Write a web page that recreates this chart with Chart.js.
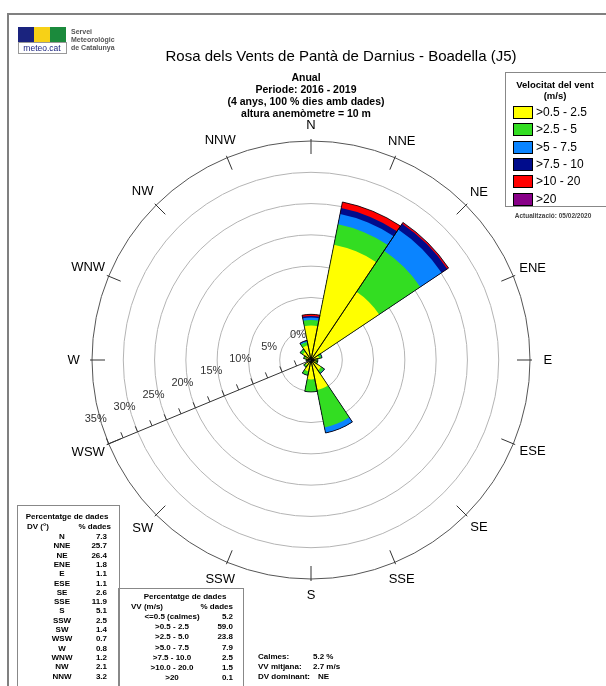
<!DOCTYPE html>
<html>
<head>
<meta charset="utf-8">
<script src="https://cdn.jsdelivr.net/npm/chart.js@4.4.1/dist/chart.umd.min.js"></script>
<style>
  body { margin: 0; background: #fff; font-family: 'Liberation Sans', Arial, sans-serif; }
  #page { position: relative; width: 606px; height: 686px; overflow: hidden; }
  #rose { position: absolute; left: 0; top: 0; }
  .t { position: absolute; white-space: nowrap; line-height: 1; color: #000; }
  .box { position: absolute; border: 1px solid #888; background: transparent; }
</style>
</head>
<body>
<div id="page">
  <canvas id="rose" width="606" height="686"></canvas>
</div>
<script>
// direccions (sentit horari des del N)
const directions = ['N', 'NNE', 'NE', 'ENE', 'E', 'ESE', 'SE', 'SSE', 'S', 'SSW', 'SW', 'WSW', 'W', 'WNW', 'NW', 'NNW'];
const dirPercent = [7.3, 25.7, 26.4, 1.8, 1.1, 1.1, 2.6, 11.9, 5.1, 2.5, 1.4, 0.7, 0.8, 1.2, 2.1, 3.2];

// classes de velocitat
const speedClasses = ['>0.5 - 2.5', '>2.5 - 5', '>5 - 7.5', '>7.5 - 10', '>10 - 20', '>20'];
const speedColors = ['#ffff00', '#33dd22', '#0a84ff', '#000c8c', '#ff0000', '#880088'];

// % per direccio i classe (llegit del grafic)
const spd05_25 = [5.5, 18.8, 13.1, 1.3, 0.85, 0.85, 1.95, 4.9, 3.1, 1.85, 1.05, 0.55, 0.6, 0.9, 1.6, 2.4];
const spd25_5  = [0.9, 3.3, 7.9, 0.4, 0.25, 0.25, 0.55, 6.1, 2.0, 0.6, 0.35, 0.15, 0.2, 0.3, 0.45, 0.55];
const spd5_75  = [0.4, 1.7, 4.1, 0.1, 0, 0, 0.1, 0.9, 0, 0.05, 0, 0, 0, 0, 0.05, 0.15];
const spd75_10 = [0.25, 0.95, 1.1, 0, 0, 0, 0, 0, 0, 0, 0, 0, 0, 0, 0, 0.1];
const spd10_20 = [0.25, 1.0, 0.2, 0, 0, 0, 0, 0, 0, 0, 0, 0, 0, 0, 0, 0];
const spd20    = [0, 0, 0.05, 0, 0, 0, 0, 0, 0, 0, 0, 0, 0, 0, 0, 0];

// taula de velocitats
const vvLabels = ['<=0.5 (calmes)', '>0.5 - 2.5', '>2.5 - 5.0', '>5.0 - 7.5', '>7.5 - 10.0', '>10.0 - 20.0', '>20'];
const vvPercent = ['5.2', '59.0', '23.8', '7.9', '2.5', '1.5', '0.1'];

// eix radial (%)
const radialTicks = [0, 5, 10, 15, 20, 25, 30, 35];

const page = document.getElementById('page');

function addText(txt, x, y, opts) {
    opts = opts || {};
    const d = document.createElement('div');
    d.className = 't';
    d.textContent = txt;
    d.style.left = x + 'px';
    d.style.top = y + 'px';
    d.style.fontSize = (opts.size || 11) + 'px';
    if (opts.bold) d.style.fontWeight = 'bold';
    if (opts.color) d.style.color = opts.color;
    const tx = opts.align === 'right' ? '-100%' : (opts.align === 'left' ? '0' : '-50%');
    d.style.transform = 'translate(' + tx + ',-50%)';
    page.appendChild(d);
    return d;
}

function addBox(x, y, w, h, css) {
    const d = document.createElement('div');
    d.className = 'box';
    d.style.left = x + 'px';
    d.style.top = y + 'px';
    d.style.width = w + 'px';
    d.style.height = h + 'px';
    if (css) Object.assign(d.style, css);
    page.appendChild(d);
    return d;
}

// marc de la pagina
addBox(7, 13, 620, 700, { border: '2px solid #808080' });

// logo
addBox(18, 27, 16, 15, { background: '#1a237e', border: 'none' });
addBox(34, 27, 16, 15, { background: '#f7d117', border: 'none' });
addBox(50, 27, 16, 15, { background: '#1b8a3c', border: 'none' });
addBox(18, 42, 47, 10, { border: '1px solid #999' });
addText('meteo.cat', 42, 47.5, { size: 8.5, color: '#1a237e' });
addText('Servei', 71, 31, { size: 7, bold: true, color: '#555', align: 'left' });
addText('Meteorològic', 71, 39, { size: 7, bold: true, color: '#555', align: 'left' });
addText('de Catalunya', 71, 47, { size: 7, bold: true, color: '#555', align: 'left' });

// titols
addText('Rosa dels Vents de Pantà de Darnius - Boadella (J5)', 341, 55, { size: 15 });
addText('Anual', 306, 77, { size: 10.5, bold: true });
addText('Periode: 2016 - 2019', 306, 89, { size: 10.5, bold: true });
addText('(4 anys, 100 % dies amb dades)', 306, 101, { size: 10.5, bold: true });
addText('altura anemòmetre = 10 m', 306, 113, { size: 10.5, bold: true });

// llegenda
addBox(505, 72, 100, 133, { border: '1.5px solid #888' });
addText('Velocitat del vent', 555, 85, { size: 9.5, bold: true });
addText('(m/s)', 555, 96, { size: 9.5, bold: true });
speedClasses.forEach(function (lab, i) {
    const cy = 112 + i * 17.3;
    addBox(513, cy - 6, 18, 11, { background: speedColors[i], border: '1px solid #000' });
    addText(lab, 536, cy, { size: 12, align: 'left' });
});
addText('Actualització: 05/02/2020', 553, 216, { size: 6.5, bold: true, color: '#444' });

// taula direccions
addBox(17, 505, 101, 200);
addText('Percentatge de dades', 67, 517, { size: 8, bold: true });
addText('DV (°)', 27, 527, { size: 8, bold: true, align: 'left' });
addText('% dades', 111, 527, { size: 8, bold: true, align: 'right' });
directions.forEach(function (d, i) {
    const y = 537 + i * 9.3;
    addText(d, 62, y, { size: 8, bold: true });
    addText(dirPercent[i].toFixed(1), 107, y, { size: 8, bold: true, align: 'right' });
});

// taula velocitats
addBox(118, 588, 124, 120);
addText('Percentatge de dades', 185, 597, { size: 8, bold: true });
addText('VV (m/s)', 131, 607, { size: 8, bold: true, align: 'left' });
addText('% dades', 233, 607, { size: 8, bold: true, align: 'right' });
vvLabels.forEach(function (l, i) {
    const y = 617 + i * 10.2;
    addText(l, 172, y, { size: 8, bold: true });
    addText(vvPercent[i], 233, y, { size: 8, bold: true, align: 'right' });
});

// resum
addText('Calmes:', 258, 657, { size: 8, bold: true, align: 'left' });
addText('5.2 %', 313, 657, { size: 8, bold: true, align: 'left' });
addText('VV mitjana:', 258, 667, { size: 8, bold: true, align: 'left' });
addText('2.7 m/s', 313, 667, { size: 8, bold: true, align: 'left' });
addText('DV dominant:', 258, 677, { size: 8, bold: true, align: 'left' });
addText('NE', 318, 677, { size: 8, bold: true, align: 'left' });

// acumulats per pintar les bandes apilades
const bands = [spd05_25, spd25_5, spd5_75, spd75_10, spd10_20, spd20];
const cumul = [];
bands.forEach(function (b, k) {
    cumul.push(b.map(function (v, i) { return v + (k > 0 ? cumul[k - 1][i] : 0); }));
});

const datasets = [{
    // contorn negre de cada sector
    data: cumul[cumul.length - 1],
    backgroundColor: 'rgba(0,0,0,0)',
    borderColor: '#000',
    borderWidth: 0.8
}];
cumul.forEach(function (c, k) {
    datasets.push({
        data: c,
        backgroundColor: speedColors[k],
        borderColor: speedColors[k],
        borderWidth: 0
    });
});

const deg = Math.PI / 180;

const roseDecor = {
    id: 'roseDecor',
    afterDatasetsDraw(chart) {
        const s = chart.scales.r;
        const ctx = chart.ctx;
        const cx = s.xCenter, cy = s.yCenter;
        const R = s.getDistanceFromCenterForValue(35);
        ctx.save();
        // marques de direccio i etiquetes
        ctx.strokeStyle = '#333';
        ctx.lineWidth = 1;
        ctx.fillStyle = '#000';
        ctx.font = '13px "Liberation Sans", Arial, sans-serif';
        ctx.textAlign = 'center';
        ctx.textBaseline = 'middle';
        directions.forEach(function (d, i) {
            const a = i * 22.5 * deg;
            const sx = Math.sin(a), sy = -Math.cos(a);
            ctx.beginPath();
            ctx.moveTo(cx + sx * (R - 13), cy + sy * (R - 13));
            ctx.lineTo(cx + sx * (R + 2), cy + sy * (R + 2));
            ctx.stroke();
            const w = ctx.measureText(d).width;
            const rl = R + 16 + Math.abs(sx) * w * 0.2;
            ctx.fillText(d, cx + sx * rl, cy + sy * rl);
        });
        // eix WSW amb escala
        const a = 247.5 * deg;
        const ux = Math.sin(a), uy = -Math.cos(a);
        const nx = Math.cos(a), ny = Math.sin(a);
        ctx.strokeStyle = '#333';
        ctx.beginPath();
        ctx.moveTo(cx, cy);
        ctx.lineTo(cx + ux * (R + 2), cy + uy * (R + 2));
        ctx.stroke();
        for (let v = 2.5; v <= 35; v += 2.5) {
            const r = s.getDistanceFromCenterForValue(v);
            const px = cx + ux * r, py = cy + uy * r;
            ctx.beginPath();
            ctx.moveTo(px, py);
            ctx.lineTo(px + nx * 6, py + ny * 6);
            ctx.stroke();
        }
        ctx.fillStyle = '#333';
        ctx.font = '11px "Liberation Sans", Arial, sans-serif';
        radialTicks.forEach(function (v) {
            const r = s.getDistanceFromCenterForValue(v);
            ctx.fillText(v + '%', cx + ux * r - 13, cy + uy * r - 25);
        });
        ctx.restore();
    }
};

new Chart(document.getElementById('rose'), {
    type: 'polarArea',
    data: { labels: directions, datasets: datasets },
    options: {
        responsive: false,
        animation: false,
        events: [],
        layout: { padding: { left: 92, right: 76, top: 141, bottom: 107 } },
        plugins: { legend: { display: false }, tooltip: { enabled: false } },
        scales: {
            r: {
                min: 0,
                max: 35,
                startAngle: -11.25,
                ticks: { display: false, stepSize: 5 },
                pointLabels: { display: false },
                angleLines: { display: false },
                grid: {
                    circular: true,
                    lineWidth: 1,
                    color: function (c) { return c.tick && c.tick.value === 35 ? '#555' : '#b4b4b4'; }
                }
            }
        }
    },
    plugins: [roseDecor]
});
</script>
</body>
</html>
